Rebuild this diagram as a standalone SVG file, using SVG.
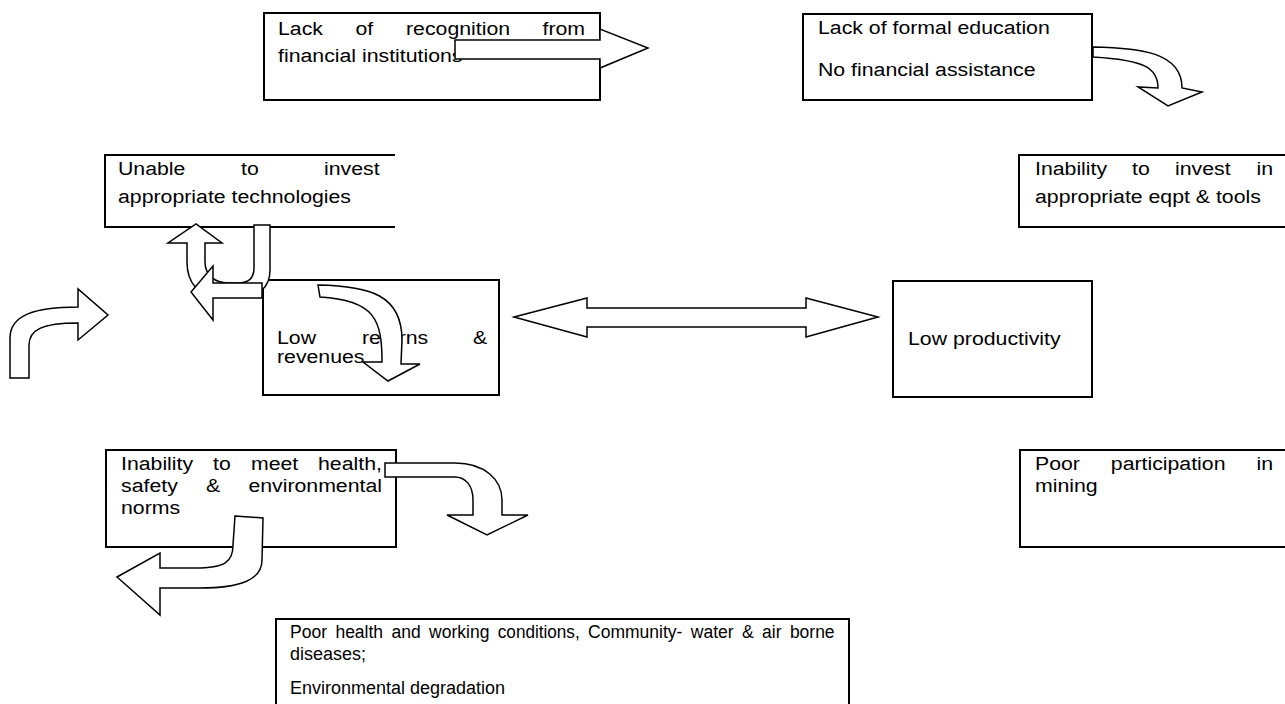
<svg xmlns="http://www.w3.org/2000/svg" width="1285" height="704" viewBox="0 0 1285 704">
<style>
.box{fill:#fff;stroke:#000;stroke-width:2}
.open{fill:none;stroke:#000;stroke-width:2}
.arr{fill:#fff;stroke:#000;stroke-width:1.5;stroke-linejoin:miter}
.t{font-family:"Liberation Sans",Arial,sans-serif;font-size:18px;fill:#000}
</style>
<rect width="1285" height="704" fill="#fff"/>
<g id="n-recognition">
<rect class="box" x="264" y="13" width="336" height="87"/>
<text class="t" x="278" y="35" textLength="44.9" lengthAdjust="spacingAndGlyphs">Lack</text>
<text class="t" x="355.5" y="35" textLength="17.7" lengthAdjust="spacingAndGlyphs">of</text>
<text class="t" x="406" y="35" textLength="104.1" lengthAdjust="spacingAndGlyphs">recognition</text>
<text class="t" x="542.5" y="35" textLength="42.6" lengthAdjust="spacingAndGlyphs">from</text>
<text class="t" x="278" y="62" textLength="184.5" lengthAdjust="spacingAndGlyphs">financial institutions</text>
</g>
<g id="n-education">
<rect class="box" x="803" y="14" width="289" height="86"/>
<text class="t" x="818" y="34" textLength="231.8" lengthAdjust="spacingAndGlyphs">Lack of formal education</text>
<text class="t" x="818" y="76" textLength="217.6" lengthAdjust="spacingAndGlyphs">No financial assistance</text>
</g>
<g id="n-technologies">
<path class="open" d="M395,155 H105 V227 H395"/>
<text class="t" x="118" y="175" textLength="67.4" lengthAdjust="spacingAndGlyphs">Unable</text>
<text class="t" x="241" y="175" textLength="17.7" lengthAdjust="spacingAndGlyphs">to</text>
<text class="t" x="324" y="175" textLength="55.6" lengthAdjust="spacingAndGlyphs">invest</text>
<text class="t" x="118" y="203" textLength="233" lengthAdjust="spacingAndGlyphs">appropriate technologies</text>
</g>
<g id="n-eqpt">
<path class="open" d="M1286,155 H1019 V227 H1286"/>
<text class="t" x="1035" y="175" textLength="72.1" lengthAdjust="spacingAndGlyphs">Inability</text>
<text class="t" x="1132" y="175" textLength="17.7" lengthAdjust="spacingAndGlyphs">to</text>
<text class="t" x="1175" y="175" textLength="55.6" lengthAdjust="spacingAndGlyphs">invest</text>
<text class="t" x="1256.5" y="175" textLength="16.6" lengthAdjust="spacingAndGlyphs">in</text>
<text class="t" x="1035" y="203" textLength="225.9" lengthAdjust="spacingAndGlyphs">appropriate eqpt &amp; tools</text>
</g>
<g id="n-returns">
<rect class="box" x="263" y="280" width="236" height="115"/>
<text class="t" x="277" y="344" textLength="39" lengthAdjust="spacingAndGlyphs">Low</text>
<text class="t" x="362" y="344" textLength="66.2" lengthAdjust="spacingAndGlyphs">returns</text>
<text class="t" x="473" y="344" textLength="14.2" lengthAdjust="spacingAndGlyphs">&amp;</text>
<text class="t" x="277" y="363" textLength="87.5" lengthAdjust="spacingAndGlyphs">revenues</text>
</g>
<g id="n-productivity">
<rect class="box" x="893" y="281" width="199" height="116"/>
<text class="t" x="908" y="345" textLength="152.6" lengthAdjust="spacingAndGlyphs">Low productivity</text>
</g>
<g id="n-norms">
<rect class="box" x="106" y="450" width="290" height="97"/>
<text class="t" x="121" y="470" textLength="72.1" lengthAdjust="spacingAndGlyphs">Inability</text>
<text class="t" x="213" y="470" textLength="17.7" lengthAdjust="spacingAndGlyphs">to</text>
<text class="t" x="251" y="470" textLength="47.3" lengthAdjust="spacingAndGlyphs">meet</text>
<text class="t" x="318" y="470" textLength="63.9" lengthAdjust="spacingAndGlyphs">health,</text>
<text class="t" x="121" y="492" textLength="56.8" lengthAdjust="spacingAndGlyphs">safety</text>
<text class="t" x="206" y="492" textLength="14.2" lengthAdjust="spacingAndGlyphs">&amp;</text>
<text class="t" x="248.4" y="492" textLength="133.6" lengthAdjust="spacingAndGlyphs">environmental</text>
<text class="t" x="121" y="514" textLength="59.1" lengthAdjust="spacingAndGlyphs">norms</text>
</g>
<g id="n-participation">
<path class="open" d="M1286,450 H1020 V547 H1286"/>
<text class="t" x="1035" y="470" textLength="44.9" lengthAdjust="spacingAndGlyphs">Poor</text>
<text class="t" x="1110.8" y="470" textLength="114.7" lengthAdjust="spacingAndGlyphs">participation</text>
<text class="t" x="1256.4" y="470" textLength="16.6" lengthAdjust="spacingAndGlyphs">in</text>
<text class="t" x="1035" y="492" textLength="62.7" lengthAdjust="spacingAndGlyphs">mining</text>
</g>
<g id="n-health">
<path class="box" d="M276,705 V619 H849 V705"/>
<text class="t" x="290" y="638" textLength="37" lengthAdjust="spacingAndGlyphs">Poor</text>
<text class="t" x="335.4" y="638" textLength="47.7" lengthAdjust="spacingAndGlyphs">health</text>
<text class="t" x="391.5" y="638" textLength="29.2" lengthAdjust="spacingAndGlyphs">and</text>
<text class="t" x="429.1" y="638" textLength="60.3" lengthAdjust="spacingAndGlyphs">working</text>
<text class="t" x="497.8" y="638" textLength="81.9" lengthAdjust="spacingAndGlyphs">conditions,</text>
<text class="t" x="588.1" y="638" textLength="94.3" lengthAdjust="spacingAndGlyphs">Community-</text>
<text class="t" x="690.8" y="638" textLength="42.8" lengthAdjust="spacingAndGlyphs">water</text>
<text class="t" x="742" y="638" textLength="11.7" lengthAdjust="spacingAndGlyphs">&amp;</text>
<text class="t" x="762.1" y="638" textLength="19.4" lengthAdjust="spacingAndGlyphs">air</text>
<text class="t" x="789.9" y="638" textLength="44.7" lengthAdjust="spacingAndGlyphs">borne</text>
<text class="t" x="290" y="660" textLength="76" lengthAdjust="spacingAndGlyphs">diseases;</text>
<text class="t" x="290" y="694" textLength="215" lengthAdjust="spacingAndGlyphs">Environmental degradation</text>
</g>
<g id="connectors">
<path class="arr" d="M455,40 L600,40 L600,29 L648,48 L600,68 L600,59 L455,59 Z"/>
<path class="arr" d="M1093,47 C1140,48 1182,52 1182,88 L1202,92 L1168,106 L1138,87 L1158,88 C1158,68 1145,60 1093,57 Z"/>
<path class="arr" d="M254,225 L270,225 L270,270 C270,288 258,297 240,297 L220,297 C198,297 187,282 187,262 L187,243 L168,243 L196,224 L222,243 L205,243 L205,262 C205,275 215,283 228,283 L238,283 C250,283 254,276 254,268 Z"/>
<path class="arr" d="M262,283 L262,298 L213,298 L213,320 L191,292 L213,266 L213,283 Z"/>
<path class="arr" d="M10,378 L10,338 C10,315 35,307 78,307 L78,289 L108,315 L78,340 L78,323 C42,323 29,330 29,345 L29,378 Z"/>
<path class="arr" d="M318,285 C370,286 402,295 402,340 L401,364 L420,364 L388,381 L363,362 L382,362 C382,320 375,300 320,297 Z"/>
<path class="arr" d="M514,317 L587,298 L587,308 L806,308 L806,298 L878,317 L806,337 L806,327 L587,327 L587,337 Z"/>
<path class="arr" d="M385,463 L455,463 C485,463 502,480 502,500 L502,515 L528,515 L487,535 L447,515 L473,515 L473,500 C473,485 465,477 455,477 L385,477 Z"/>
<path class="arr" d="M235,516 L263,518 L262,560 C262,580 240,588 200,588 L160,588 L160,615 L117,577 L160,553 L160,568 L195,568 C225,568 233,562 233,545 Z"/>
</g>
</svg>
